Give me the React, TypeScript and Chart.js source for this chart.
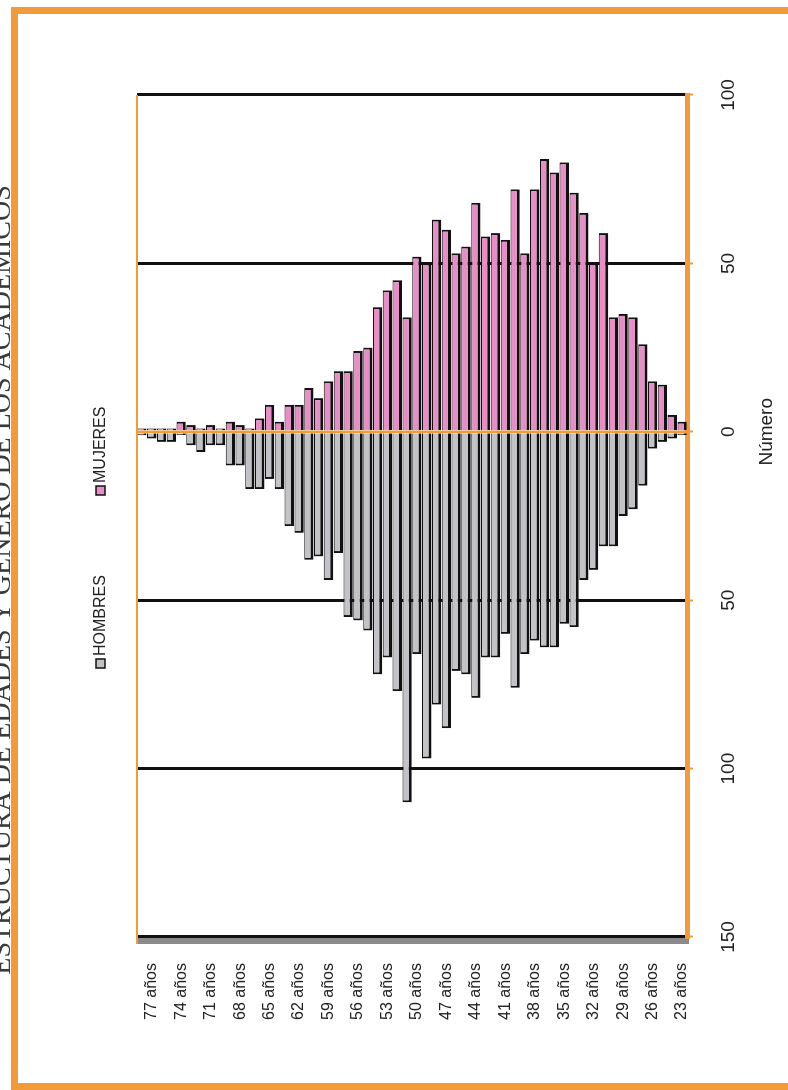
import React, { useEffect, useRef } from "react";
import { Chart, registerables } from "chart.js";

Chart.register(...registerables);

// ---------- data ----------
const categories = [
  "78 años", "77 años", "76 años", "75 años", "74 años", "73 años", "72 años", "71 años",
  "70 años", "69 años", "68 años", "67 años", "66 años", "65 años", "64 años", "63 años",
  "62 años", "61 años", "60 años", "59 años", "58 años", "57 años", "56 años", "55 años",
  "54 años", "53 años", "52 años", "51 años", "50 años", "49 años", "48 años", "47 años",
  "46 años", "45 años", "44 años", "43 años", "42 años", "41 años", "40 años", "39 años",
  "38 años", "37 años", "36 años", "35 años", "34 años", "33 años", "32 años", "31 años",
  "30 años", "29 años", "28 años", "27 años", "26 años", "25 años", "24 años", "23 años",
];

const shownLabels = [
  "77 años", "74 años", "71 años", "68 años", "65 años", "62 años", "59 años", "56 años",
  "53 años", "50 años", "47 años", "44 años", "41 años", "38 años", "35 años", "32 años",
  "29 años", "26 años", "23 años",
];

const hombres = [
  1, 2, 3, 3, 1, 4, 6, 4, 4, 10, 10, 17, 17, 14, 17, 28,
  30, 38, 37, 44, 36, 55, 56, 59, 72, 67, 77, 110, 66, 97, 81, 88,
  71, 72, 79, 67, 67, 60, 76, 66, 62, 64, 64, 57, 58, 44, 41, 34,
  34, 25, 23, 16, 5, 3, 2, 1,
];

const mujeres = [
  1, 1, 1, 1, 3, 2, 1, 2, 1, 3, 2, 1, 4, 8, 3, 8,
  8, 13, 10, 15, 18, 18, 24, 25, 37, 42, 45, 34, 52, 50, 63, 60,
  53, 55, 68, 58, 59, 57, 72, 53, 72, 81, 77, 80, 71, 65, 50, 59,
  34, 35, 34, 26, 15, 14, 5, 3,
];

const seriesNames = ["HOMBRES", "MUJERES"];
const chartTitle = "ESTRUCTURA DE EDADES Y GÉNERO DE LOS ACADÉMICOS";
const axisTitle = "Número";
const valueMin = -150;
const valueMax = 100;
const valueStep = 50;

// ---------- style ----------
const W = 1090; // unrotated width
const H = 788; // unrotated height
const ORANGE = "#F29B38";
const PINK = "#E68EC5";
const GRAY = "#C3C3C7";
const DARK = "#111111";
const SANS = '"Liberation Sans", Arial, sans-serif';
const SERIF = '"Liberation Serif", "Times New Roman", serif';

const framePlugin = {
  id: "frame",
  beforeDraw(chart: any) {
    const { ctx, chartArea } = chart;
    ctx.save();
    ctx.fillStyle = "#ffffff";
    ctx.fillRect(0, 0, W, H);
    // outer orange frame
    ctx.strokeStyle = ORANGE;
    ctx.lineWidth = 7;
    ctx.strokeRect(3.5, 14.5, 1076, 840);
    // floor band (3D wall)
    ctx.fillStyle = "#8a8a8a";
    ctx.fillRect(chartArea.left - 7, chartArea.top, 6, chartArea.bottom - chartArea.top + 2);
    ctx.restore();
  },
  afterDatasetsDraw(chart: any) {
    const { ctx, chartArea, scales } = chart;
    const x0 = scales.x.getPixelForValue(0);
    ctx.save();
    ctx.strokeStyle = ORANGE;
    ctx.lineWidth = 2.5;
    ctx.beginPath();
    ctx.moveTo(x0, chartArea.top);
    ctx.lineTo(x0, chartArea.bottom);
    ctx.stroke();
    ctx.restore();
  },
  afterDraw(chart: any) {
    const { ctx, chartArea, scales } = chart;
    ctx.save();
    // top edge of plot
    ctx.strokeStyle = ORANGE;
    ctx.lineWidth = 2;
    ctx.beginPath();
    ctx.moveTo(chartArea.left - 7, chartArea.top);
    ctx.lineTo(chartArea.right, chartArea.top);
    ctx.stroke();

    // title (partly cut off by the page edge)
    ctx.fillStyle = "#3a3a3a";
    ctx.font = `28px ${SERIF}`;
    ctx.textAlign = "center";
    ctx.textBaseline = "alphabetic";
    ctx.fillText(chartTitle, 510, 10);

    // legend
    ctx.font = `16px ${SANS}`;
    ctx.textBaseline = "middle";
    ctx.textAlign = "left";
    const items = [
      { name: seriesNames[0], color: GRAY, x: 422 },
      { name: seriesNames[1], color: PINK, x: 595 },
    ];
    items.forEach((it) => {
      ctx.fillStyle = it.color;
      ctx.fillRect(it.x, 96, 9, 9);
      ctx.strokeStyle = DARK;
      ctx.lineWidth = 1.5;
      ctx.strokeRect(it.x, 96, 9, 9);
      ctx.fillStyle = "#222";
      ctx.fillText(it.name, it.x + 12, 101);
    });

    // axis title
    ctx.font = `19px ${SANS}`;
    ctx.textAlign = "center";
    ctx.fillStyle = "#222";
    ctx.fillText(axisTitle, scales.x.getPixelForValue(0), 767);
    ctx.restore();
  },
};

export default function App() {
  const ref = useRef<HTMLCanvasElement>(null);

  useEffect(() => {
    const canvas = ref.current;
    if (!canvas) return;
    Chart.defaults.font.family = SANS;
    const chart = new Chart(canvas, {
      type: "bar",
      data: {
        labels: categories,
        datasets: [
          {
            label: seriesNames[0],
            data: hombres.map((v) => -v),
            backgroundColor: GRAY,
            borderColor: DARK,
            borderWidth: { top: 1, left: 2, bottom: 3, right: 0 } as any,
            borderSkipped: false,
            barPercentage: 0.95,
            categoryPercentage: 1,
          },
          {
            label: seriesNames[1],
            data: mujeres,
            backgroundColor: PINK,
            borderColor: DARK,
            borderWidth: { top: 1, right: 2, bottom: 3, left: 0 } as any,
            borderSkipped: false,
            barPercentage: 0.95,
            categoryPercentage: 1,
          },
        ],
      },
      options: {
        indexAxis: "y",
        responsive: false,
        animation: false,
        layout: { padding: { top: 137, right: 95, bottom: 0, left: 0 } },
        plugins: {
          legend: { display: false },
          title: { display: false },
          tooltip: { enabled: false },
        },
        scales: {
          x: {
            type: "linear",
            stacked: true,
            min: valueMin,
            max: valueMax,
            ticks: {
              stepSize: valueStep,
              callback: (v: any) => String(Math.abs(Number(v))),
              font: { size: 19 },
              color: "#222",
              padding: 24,
              maxRotation: 0,
            },
            grid: {
              color: (c: any) => (c.tick && c.tick.value === 0 ? "rgba(0,0,0,0)" : DARK),
              lineWidth: 3,
              tickLength: 6,
              tickColor: ORANGE,
              tickWidth: 2,
              drawTicks: true,
            },
            border: { display: true, color: ORANGE, width: 5 },
            afterFit: (s: any) => {
              s.height = 101;
            },
          },
          y: {
            type: "category",
            stacked: true,
            grid: { display: false, drawTicks: false },
            border: { display: false },
            ticks: {
              autoSkip: false,
              font: { size: 16 },
              color: "#222",
              padding: 26,
              callback: (_v: any, i: number) =>
                shownLabels.includes(categories[i]) ? categories[i] : "",
            },
            afterFit: (s: any) => {
              s.width = 153;
            },
          },
        },
      },
      plugins: [framePlugin],
    } as any);
    return () => chart.destroy();
  }, []);

  return (
    <div
      style={{
        position: "absolute",
        left: 0,
        top: 0,
        width: 788,
        height: 1090,
        overflow: "hidden",
        background: "#fff",
      }}
    >
      <div
        style={{
          position: "absolute",
          left: 0,
          top: 0,
          width: W,
          height: H,
          transformOrigin: "0 0",
          transform: `translateY(${W}px) rotate(-90deg)`,
        }}
      >
        <canvas ref={ref} width={W} height={H} style={{ display: "block", width: W, height: H }} />
      </div>
    </div>
  );
}
